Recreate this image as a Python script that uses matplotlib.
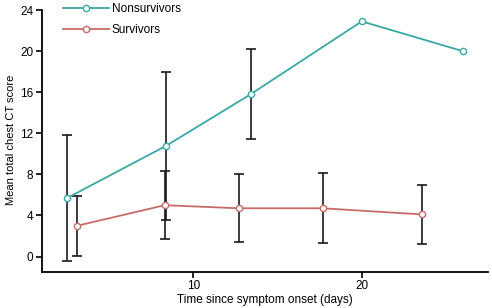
import numpy as np
import matplotlib
matplotlib.use("Agg")
import matplotlib.pyplot as plt

plt.rcParams['font.family'] = ['Liberation Sans', 'DejaVu Sans']

# Daten
t_non = np.array([2.5, 8.4, 13.4, 20.0, 26.0])
y_non = np.array([5.7, 10.8, 15.8, 22.9, 20.0])
e_non = np.array([6.1, 7.2, 4.4, 0.0, 0.0])

t_surv = np.array([3.1, 8.3, 12.7, 17.7, 23.6])
y_surv = np.array([3.0, 5.0, 4.7, 4.7, 4.1])
e_surv = np.array([2.9, 3.3, 3.3, 3.4, 2.9])

teal = "#3aa8a4"
rose = "#c96a6a"

fig = plt.figure(figsize=(4.92, 3.08), dpi=100)
ax = fig.add_axes([0.085, 0.117, 0.907, 0.857])

# Fehlerbalken (nur wo vorhanden)
m = e_non > 0
ax.errorbar(t_non[m], y_non[m], yerr=e_non[m], fmt='none', ecolor='#1a1a1a',
            elinewidth=1.2, capsize=3.3, capthick=1.2, zorder=2)
ax.errorbar(t_surv, y_surv, yerr=e_surv, fmt='none', ecolor='#1a1a1a',
            elinewidth=1.2, capsize=3.3, capthick=1.2, zorder=2)

ax.plot(t_non, y_non, '-o', color=teal, lw=1.3, ms=4.5, mfc='white',
        mec=teal, mew=1.0, label="Nonsurvivors", zorder=3)
ax.plot(t_surv, y_surv, '-o', color=rose, lw=1.3, ms=4.5, mfc='white',
        mec=rose, mew=1.0, label="Survivors", zorder=3)

ax.set_xlim(1.0, 27.5)
ax.set_ylim(-1.5, 24.2)
ax.set_xticks([10, 20])
ax.set_yticks([0, 4, 8, 12, 16, 20, 24])

for s in ['top', 'right']:
    ax.spines[s].set_visible(False)
for s in ['left', 'bottom']:
    ax.spines[s].set_linewidth(1.3)
ax.spines['left'].set_bounds(-1.5, 24)
ax.tick_params(direction='out', length=4, width=1.2, labelsize=8.5, pad=2)

ax.set_xlabel("Time since symptom onset (days)", fontsize=8.5, labelpad=1)
ax.set_ylabel("Mean total chest CT score", fontsize=8, labelpad=3)

ax.legend(loc='upper left', bbox_to_anchor=(0.024, 1.06), frameon=False,
          fontsize=8.5, handlelength=3.9, handletextpad=0.2, labelspacing=0.75)

fig.savefig("out.png", dpi=100)
